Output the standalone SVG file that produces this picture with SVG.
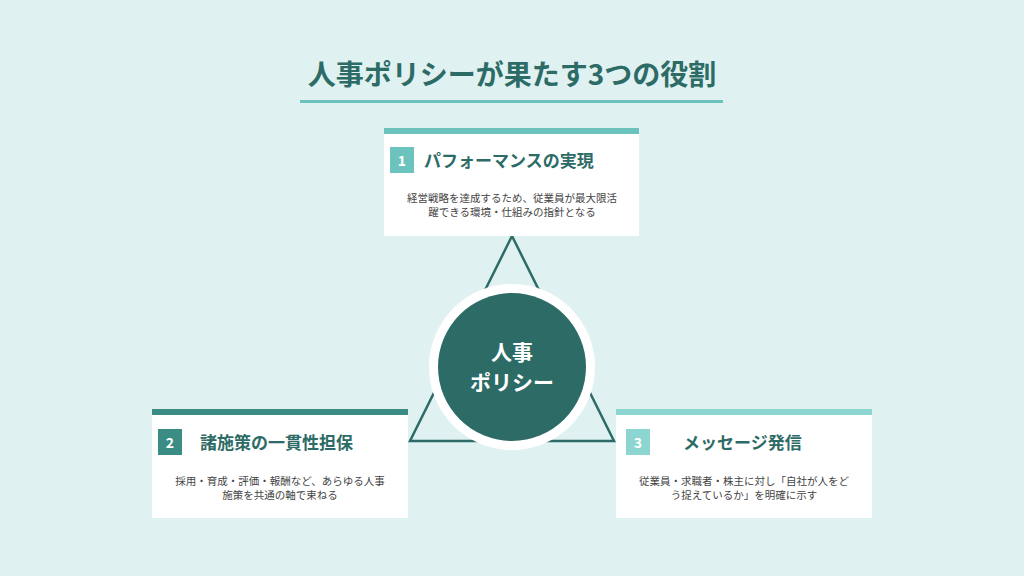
<svg xmlns="http://www.w3.org/2000/svg" width="1024" height="576" viewBox="0 0 1024 576">
<style>
text{font-family:"Noto Sans CJK JP","Noto Sans",sans-serif}
.card{fill:#fff}
.t{font-size:17px;font-weight:700;fill:#2d6b66}
.n{font-size:14px;font-weight:700;fill:#fff;text-anchor:middle}
.d{font-size:10.5px;fill:#444;text-anchor:middle}
</style>
<rect width="1024" height="576" fill="#e0f1f1"/>
<text x="512" y="85" text-anchor="middle" font-size="28" font-weight="700" fill="#2d6b66">人事ポリシーが果たす3つの役割</text>
<rect x="300" y="100" width="423" height="3" fill="#6cc3bd"/>
<g id="connectors">
<polygon points="512,236 410,441 614,441" fill="none" stroke="#2d6b66" stroke-width="2.5"/>
</g>
<g id="center">
<circle cx="512" cy="367" r="83" fill="#fff"/>
<circle cx="512" cy="367" r="74" fill="#2d6b66"/>
<text x="512" y="360" text-anchor="middle" font-size="21" font-weight="700" fill="#fff">人事</text>
<text x="512" y="390" text-anchor="middle" font-size="21" font-weight="700" fill="#fff">ポリシー</text>
</g>
<g id="card1">
<rect class="card" x="384" y="128" width="255" height="108"/>
<rect x="384" y="128" width="255" height="6" fill="#6cc3bd"/>
<rect x="390" y="147" width="24" height="26" fill="#6cc3bd"/>
<text class="n" x="402" y="166">1</text>
<text class="t" x="424" y="167">パフォーマンスの実現</text>
<text class="d" x="512" y="202">経営戦略を達成するため、従業員が最大限活</text>
<text class="d" x="512" y="216">躍できる環境・仕組みの指針となる</text>
</g>
<g id="card2">
<rect class="card" x="152" y="409" width="256" height="109"/>
<rect x="152" y="409" width="256" height="6" fill="#3a8c85"/>
<rect x="158" y="429" width="24" height="26" fill="#3a8c85"/>
<text class="n" x="170" y="448">2</text>
<text class="t" x="200" y="449">諸施策の一貫性担保</text>
<text class="d" x="280" y="485">採用・育成・評価・報酬など、あらゆる人事</text>
<text class="d" x="280" y="499">施策を共通の軸で束ねる</text>
</g>
<g id="card3">
<rect class="card" x="616" y="409" width="256" height="109"/>
<rect x="616" y="409" width="256" height="6" fill="#8dd5d0"/>
<rect x="626" y="429" width="24" height="26" fill="#8dd5d0"/>
<text class="n" x="638" y="448">3</text>
<text class="t" x="683" y="449">メッセージ発信</text>
<text class="d" x="744" y="485">従業員・求職者・株主に対し「自社が人をど</text>
<text class="d" x="744" y="499">う捉えているか」を明確に示す</text>
</g>
</svg>
